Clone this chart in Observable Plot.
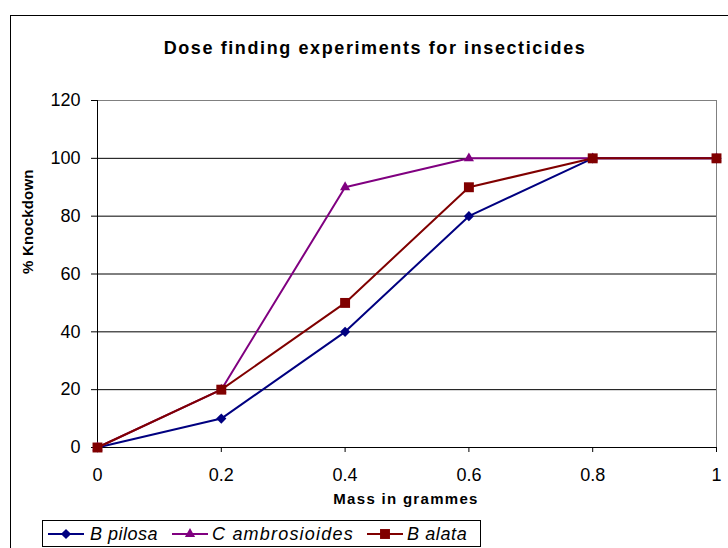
<!DOCTYPE html>
<html>
<head>
<meta charset="utf-8">
<script src="https://cdn.jsdelivr.net/npm/d3@7"></script>
<script src="https://cdn.jsdelivr.net/npm/@observablehq/plot@0.6"></script>
<style>
  html, body { margin: 0; padding: 0; background: #fff; overflow: hidden; }
  #wrap { position: relative; width: 728px; height: 548px; font-family: "Liberation Sans", Arial, sans-serif; }
  #border { position: absolute; left: 10px; top: 15px; width: 800px; height: 600px; border-left: 1px solid #000; border-top: 1px solid #000; pointer-events: none; }
  #chart { position: absolute; left: 0; top: 0; }
  #legend { position: absolute; left: 42px; top: 520px; width: 439px; height: 27px; border: 1px solid #000; box-sizing: border-box; background: #fff; }
  .sw { position: absolute; top: 6px; }
  .lt { position: absolute; top: 2px; font-size: 18px; font-style: italic; line-height: 22px; white-space: nowrap; color: #000; }
</style>
</head>
<body>
<div id="wrap">
  <div id="chart"></div>
  <div id="border"></div>
  <div id="legend"></div>
</div>
<script>
// ---- data ----
const title = "Dose finding experiments for insecticides";
const xTitle = "Mass in grammes";
const yTitle = "% Knockdown";
const mass = [0, 0.2, 0.4, 0.6, 0.8, 1];
const xTickLabels = ["0", "0.2", "0.4", "0.6", "0.8", "1"];
const yTicks = [0, 20, 40, 60, 80, 100, 120];
const seriesNames = ["B pilosa", "C ambrosioides", "B alata"];
const bPilosa = [0, 10, 40, 80, 100, 100];
const cAmbrosioides = [0, 20, 90, 100, 100, 100];
const bAlata = [0, 20, 50, 90, 100, 100];
const seriesColors = ["#000080", "#800080", "#800000"];
const seriesSymbols = ["diamond2", "triangle", "square"];
const seriesR = [4.6, 3.8, 5.6];

const valuesBySeries = [bPilosa, cAmbrosioides, bAlata];
const table = [];
seriesNames.forEach((s, i) => mass.forEach((m, j) => table.push({series: s, mass: m, pct: valuesBySeries[i][j]})));

const marks = [
  Plot.frame({stroke: "#808080"}),
  Plot.ruleY(yTicks.filter(d => d > 0 && d < 120), {stroke: "#000", strokeWidth: 1}),
  Plot.ruleX([0], {stroke: "#000"}),
  Plot.ruleY([0], {stroke: "#000"}),
  Plot.axisY({ticks: yTicks, tickSize: 6, tickPadding: 11, label: null, stroke: "#000"}),
  Plot.axisX({ticks: mass, tickSize: 5, tickPadding: 16, label: null, stroke: "#000",
              tickFormat: (d) => xTickLabels[mass.indexOf(d)]})
];
seriesNames.forEach((s, i) => {
  const rows = table.filter(d => d.series === s);
  marks.push(Plot.line(rows, {x: "mass", y: "pct", stroke: seriesColors[i], strokeWidth: 2}));
});
seriesNames.forEach((s, i) => {
  const rows = table.filter(d => d.series === s);
  marks.push(Plot.dot(rows, {x: "mass", y: "pct", fill: seriesColors[i], symbol: seriesSymbols[i], r: seriesR[i]}));
});
marks.push(Plot.text([title], {text: d => d, frameAnchor: "top", dx: -32, dy: -59, fontWeight: "bold", fontSize: 18}));
marks.push(Plot.text([xTitle], {text: d => d, frameAnchor: "bottom", dx: -1, dy: 56, fontWeight: "bold", fontSize: 15}));
marks.push(Plot.text([yTitle], {text: d => d, frameAnchor: "left", dx: -69, rotate: -90, fontWeight: "bold", fontSize: 15}));

const chart = Plot.plot({
  width: 728,
  height: 548,
  marginLeft: 97,
  marginRight: 12,
  marginTop: 100,
  marginBottom: 101,
  x: {domain: [0, 1]},
  y: {domain: [0, 120]},
  style: {fontFamily: "'Liberation Sans', Arial, sans-serif", fontSize: "18px", color: "#000", background: "transparent", overflow: "visible"},
  marks
});
chart.querySelectorAll("text").forEach(t => {
  const c = t.textContent;
  if (c === title) t.style.letterSpacing = "1.6px";
  else if (c === xTitle) t.style.letterSpacing = "1.3px";
  else if (c === yTitle) t.style.letterSpacing = "0.2px";
});
document.getElementById("chart").appendChild(chart);

// ---- legend ----
const legend = document.getElementById("legend");
const swLeft = [5, 129, 324];
const txLeft = [47, 169, 364];
const txSpacing = ["0.5px", "1.2px", "0.6px"];
const ns = "http://www.w3.org/2000/svg";
seriesNames.forEach((s, i) => {
  const svg = document.createElementNS(ns, "svg");
  svg.setAttribute("width", 36); svg.setAttribute("height", 14);
  svg.setAttribute("class", "sw");
  svg.style.left = swLeft[i] + "px";
  const ln = document.createElementNS(ns, "line");
  ln.setAttribute("x1", 0); ln.setAttribute("x2", 36); ln.setAttribute("y1", 7); ln.setAttribute("y2", 7);
  ln.setAttribute("stroke", seriesColors[i]); ln.setAttribute("stroke-width", 2);
  svg.appendChild(ln);
  const p = document.createElementNS(ns, "path");
  const sym = {diamond2: d3.symbolDiamond2, triangle: d3.symbolTriangle, square: d3.symbolSquare}[seriesSymbols[i]];
  p.setAttribute("d", d3.symbol(sym, Math.PI * seriesR[i] * seriesR[i])());
  p.setAttribute("transform", "translate(18,7)");
  p.setAttribute("fill", seriesColors[i]);
  svg.appendChild(p);
  legend.appendChild(svg);
  const tx = document.createElement("div");
  tx.className = "lt";
  tx.style.left = txLeft[i] + "px";
  tx.style.letterSpacing = txSpacing[i];
  tx.textContent = s;
  legend.appendChild(tx);
});
</script>
</body>
</html>
